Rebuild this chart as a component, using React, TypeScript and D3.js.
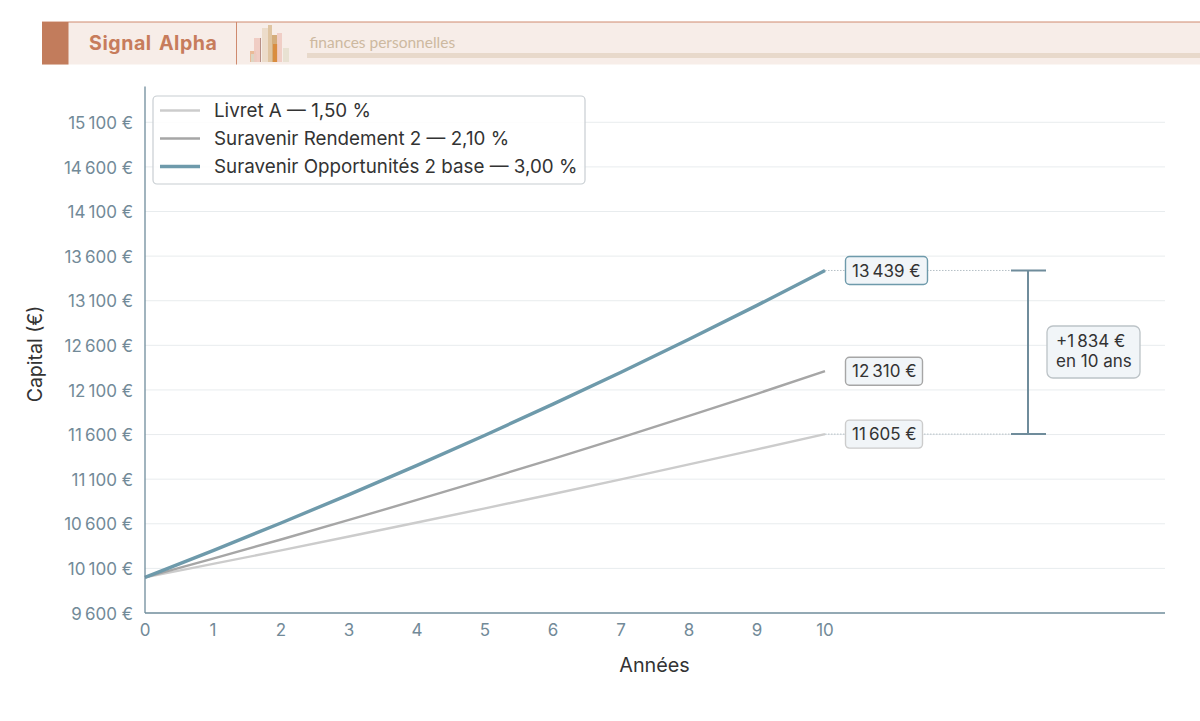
import * as d3 from "d3"

const years = [0, 1, 2, 3, 4, 5, 6, 7, 8, 9, 10]
const livretA = [10000, 10150, 10302, 10457, 10614, 10773, 10934, 11098, 11265, 11434, 11605]
const rendement = [10000, 10210, 10424, 10643, 10867, 11095, 11328, 11566, 11809, 12057, 12310]
const opportunites = [10000, 10300, 10609, 10927, 11255, 11593, 11941, 12299, 12668, 13048, 13439]
const seriesNames = ["Livret A — 1,50 %", "Suravenir Rendement 2 — 2,10 %", "Suravenir Opportunités 2 base — 3,00 %"]
const seriesValues = [livretA, rendement, opportunites]
const seriesColors = ["#cccccc", "#a6a6a6", "#6e9aab"]
const seriesWidths = [2.4, 2.4, 3.4]
const endLabels = ["11\u202f605 €", "12\u202f310 €", "13\u202f439 €"]
const endLabelWidths = [77, 77, 82]
const yTicks = [9600, 10100, 10600, 11100, 11600, 12100, 12600, 13100, 13600, 14100, 14600, 15100]
const xTicks = [0, 1, 2, 3, 4, 5, 6, 7, 8, 9, 10]

// petit logo du bandeau
const logoX = [250, 251, 254, 260, 262, 268, 272, 273, 277, 283]
const logoW = [6, 6, 7, 1, 6, 4, 5, 5, 5, 6]
const logoTop = [51, 54, 38, 38, 28, 25, 35, 44, 33, 48]
const logoColors = ["#e8b58f", "#dcd8c8", "#eec9c0", "#b08a80", "#ead9c6", "#dcc09a", "#cfa56f", "#d98a3a", "#eecac2", "#e5dfcf"]

const margin = { top: 86, right: 35, bottom: 108, left: 145 }
const width = 1200
const height = 721

const x = d3.scaleLinear().domain([0, 15]).range([margin.left, width - margin.right])
const y = d3.scaleLinear().domain([9600, 15500]).range([height - margin.bottom, 86.6])

const fmt = (v: number) => String(v).replace(/(\d)(?=\d{3}$)/, "$1\u202f") + " €"

const axisColor = "#6f8c9b"
const tickColor = "#728a98"
const textColor = "#333333"
const font = "Inter, sans-serif"

export default function App() {
  const line = d3
    .line<number>()
    .x((_, i) => x(years[i]))
    .y((d) => y(d))

  const top = y(13439)
  const bottom = y(11605)

  return (
    <svg
      width={width}
      height={height}
      style={{ position: "absolute", left: 0, top: 0, background: "#fff" }}
      fontFamily={font}
    >
      {/* bandeau */}
      <rect x={42} y={22} width={1158} height={42.5} fill="#f7ede8" />
      <line x1={42} x2={1200} y1={22} y2={22} stroke="#cf8a6e" strokeWidth={1} />
      <rect x={42} y={22} width={26.5} height={42.5} fill="#c27c5c" />
      <line x1={236.5} x2={236.5} y1={22} y2={64.5} stroke="#cf8a6e" strokeWidth={1} />
      <text x={89} y={50} fontFamily="Inter, sans-serif" fontWeight={700} fontSize={19.6} letterSpacing={0.55} wordSpacing={2} fill="#c77c5c">
        Signal Alpha
      </text>
      {logoX.map((d, i) => (
        <rect key={i} x={d} y={logoTop[i]} width={logoW[i]} height={62 - logoTop[i]} fill={logoColors[i]} opacity={0.9} />
      ))}
      <text x={309.5} y={47.5} fontFamily="Lato, sans-serif" fontSize={15.5} fill="#cdb9a0">
        finances personnelles
      </text>
      <rect x={307} y={53} width={893} height={5} fill="#e8d9cb" />

      {/* grille */}
      {yTicks.slice(1).map((d) => (
        <line key={d} x1={x.range()[0]} x2={x.range()[1]} y1={y(d)} y2={y(d)} stroke="#e8ecee" strokeWidth={1} />
      ))}

      {/* pointillés */}
      {[top, bottom].map((d) => (
        <line key={d} x1={x(10)} x2={1012} y1={d} y2={d} stroke="#b5c0c6" strokeWidth={1} strokeDasharray="1.5 1.5" />
      ))}

      {/* courbes */}
      {seriesValues.map((values, i) => (
        <path key={i} d={line(values) ?? ""} fill="none" stroke={seriesColors[i]} strokeWidth={seriesWidths[i]} />
      ))}

      {/* axes */}
      <line x1={x.range()[0]} x2={x.range()[0]} y1={y.range()[0]} y2={y.range()[1]} stroke={axisColor} strokeWidth={1.3} />
      <line x1={x.range()[0]} x2={x.range()[1]} y1={y.range()[0]} y2={y.range()[0]} stroke={axisColor} strokeWidth={1.3} />
      {yTicks.map((d) => (
        <text key={d} x={133} y={y(d) + 0.6} dy="0.36em" textAnchor="end" fontSize={17} fill={tickColor}>
          {fmt(d)}
        </text>
      ))}
      {xTicks.map((d) => (
        <text key={d} x={x(d)} y={636} textAnchor="middle" fontSize={17} fill={tickColor}>
          {d}
        </text>
      ))}
      <text x={654.5} y={671.5} textAnchor="middle" fontSize={19.8} fill={textColor}>
        Années
      </text>
      <text transform="translate(42,354) rotate(-90)" textAnchor="middle" fontSize={19.5} fill={textColor}>
        Capital (€)
      </text>

      {/* étiquettes de fin */}
      {seriesValues.map((values, i) => {
        const v = values[values.length - 1]
        return (
          <g key={i}>
            <rect
              x={845.5}
              y={y(v) - 14}
              width={endLabelWidths[i]}
              height={28}
              rx={4}
              fill="#f1f5f8"
              stroke={seriesColors[i]}
              strokeWidth={1.4}
            />
            <text x={852} y={y(v)} dy="0.36em" fontSize={17} fill={textColor}>
              {endLabels[i]}
            </text>
          </g>
        )
      })}

      {/* écart */}
      <g stroke="#6f8c9b" strokeWidth={2}>
        <line x1={1028} x2={1028} y1={top} y2={bottom} />
        <line x1={1011} x2={1046} y1={top} y2={top} />
        <line x1={1011} x2={1046} y1={bottom} y2={bottom} />
      </g>
      <rect x={1047} y={326} width={93} height={52} rx={6} fill="#f1f5f8" stroke="#bcc3c7" strokeWidth={1.3} />
      <text x={1056} y={347} fontSize={17} fill={textColor}>
        +1{"\u202f"}834 €
      </text>
      <text x={1056} y={367} fontSize={17} fill={textColor}>
        en 10 ans
      </text>

      {/* légende */}
      <rect x={153} y={96} width={432} height={88} rx={4} fill="#fff" fillOpacity={0.85} stroke="#c8ced2" strokeWidth={1.2} />
      {seriesNames.map((name, i) => {
        const ly = 110.5 + i * 28
        return (
          <g key={name}>
            <line x1={160} x2={200} y1={ly} y2={ly} stroke={seriesColors[i]} strokeWidth={seriesWidths[i]} />
            <text x={214} y={ly} dy="0.36em" fontSize={18.8} fill={textColor}>
              {name}
            </text>
          </g>
        )
      })}
    </svg>
  )
}
